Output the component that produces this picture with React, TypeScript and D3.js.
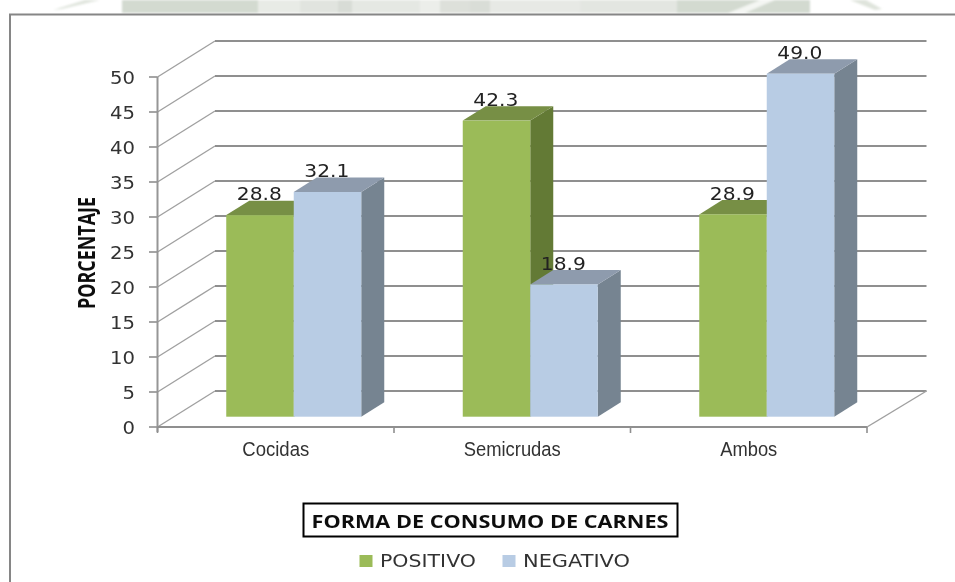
import React from "react";
import * as d3 from "d3";

const categories = ["Cocidas", "Semicrudas", "Ambos"];
const seriesNames = ["POSITIVO", "NEGATIVO"];
const positivo = [28.8, 42.3, 28.9];
const negativo = [32.1, 18.9, 49.0];
const yTicks = [0, 5, 10, 15, 20, 25, 30, 35, 40, 45, 50];
const labelWidths = [67, 97, 57];
const colors = {
  POSITIVO: { front: "#9BBB59", top: "#778F45", side: "#647A36" },
  NEGATIVO: { front: "#B8CCE4", top: "#8E9BAD", side: "#768491" },
};

const mono = "'DejaVu Sans', sans-serif";
const depth = { dx: 57.5, dy: 36 };
const barDepth = { dx: 23, dy: 14.4 };

const y = d3.scaleLinear().domain([0, 50]).range([427, 77]);
const yBar = d3.scaleLinear().domain([0, 50]).range([416.7, 66.7]);
const x = d3.scaleBand<string>().domain(categories).range([157.5, 867]);
const inner = d3.scaleBand<string>().domain(seriesNames).range([-67.5, 67.5]);
const barShift = 18;
const line = d3.line();

const wmBlocks: [number, number, number, number, string][] = [
  [122, 258, 0, 13, "#d3dad0"],
  [258, 300, 0, 13, "#e8ebe6"],
  [300, 338, 0, 13, "#e1e4df"],
  [338, 352, 0, 13, "#d8dcd6"],
  [352, 420, 0, 13, "#e5e8e3"],
  [420, 440, 0, 13, "#eceeea"],
  [440, 470, 0, 13, "#dde0da"],
  [470, 490, 0, 13, "#d9ddd7"],
  [490, 580, 0, 13, "#e7e9e5"],
  [580, 677, 0, 13, "#e3e6e1"],
  [677, 810, 0, 13, "#d3dad0"],
];

export default function App() {
  const data = categories.map((c, i) => ({ c, vals: [positivo[i], negativo[i]] }));
  return (
    <svg
      width={955}
      height={582}
      style={{ position: "absolute", left: 0, top: 0, background: "#fff" }}
    >
      <defs>
        <filter id="wm" x="-5%" y="-20%" width="110%" height="140%">
          <feGaussianBlur stdDeviation="1.2" />
        </filter>
        <filter id="soft" x="-5%" y="-5%" width="110%" height="110%">
          <feGaussianBlur stdDeviation="0.35" />
        </filter>
      </defs>

      <g filter="url(#wm)">
        {wmBlocks.map(([a, b, t, h, f]) => (
          <rect key={a} x={a} y={t} width={b - a} height={h} fill={f} />
        ))}
        <path d={line([[53, 10], [85, 0], [100, 0], [62, 9]]) + "Z"} fill="#dfe4dc" />
        <path d={line([[850, 0], [866, 0], [882, 9], [875, 10]]) + "Z"} fill="#dfe4dc" />
        <path d={line([[728, 13], [760, 0], [775, 0], [745, 13]]) + "Z"} fill="#f4f6f3" />
      </g>
      <rect x={0} y={14} width={955} height={568} fill="#fff" />
      <path d="M10 582V14.5H955" fill="none" stroke="#868686" strokeWidth={2} />

      <g filter="url(#soft)">
        {yTicks.map((t) => {
          const yy = y(t);
          return (
            <g key={t}>
              <line
                x1={157.5}
                y1={yy}
                x2={157.5 + depth.dx}
                y2={yy - depth.dy}
                stroke="#a0a0a0"
                strokeWidth={1.4}
              />
              <line
                x1={157.5 + depth.dx}
                y1={yy - depth.dy}
                x2={926.5}
                y2={yy - depth.dy}
                stroke="#8f8f8f"
                strokeWidth={1.8}
              />
              <line x1={149} x2={157.5} y1={yy} y2={yy} stroke="#8f8f8f" strokeWidth={1.6} />
              <text
                x={135}
                y={yy + 7}
                textAnchor="end"
                fontFamily={mono}
                fontSize={18}
                fill="#333"
                textLength={String(t).length * 12.5}
                lengthAdjust="spacingAndGlyphs"
              >
                {t}
              </text>
            </g>
          );
        })}
        <line x1={157.5} x2={157.5} y1={77} y2={432} stroke="#969696" strokeWidth={2} />
        <line x1={157.5} x2={867} y1={427} y2={427} stroke="#8f8f8f" strokeWidth={1.8} />
        <line x1={867} x2={926.5} y1={427} y2={391} stroke="#a0a0a0" strokeWidth={1.4} />
        {[...categories.map((c) => x(c) as number), 867].map((tx) => (
          <line key={tx} x1={tx} x2={tx} y1={427} y2={433} stroke="#8f8f8f" strokeWidth={1.6} />
        ))}

        {data.map(({ c, vals }) =>
          vals.map((v, si) => {
            const name = seriesNames[si] as keyof typeof colors;
            const left = (x(c) as number) + x.bandwidth() / 2 + barShift + (inner(name) as number);
            const w = inner.bandwidth();
            const top = yBar(v);
            const base = yBar(0);
            const { dx, dy } = barDepth;
            const col = colors[name];
            return (
              <g key={c + name}>
                <path
                  d={line([[left + w, top], [left + w + dx, top - dy], [left + w + dx, base - dy], [left + w, base]]) + "Z"}
                  fill={col.side}
                />
                <path
                  d={line([[left, top], [left + dx, top - dy], [left + w + dx, top - dy], [left + w, top]]) + "Z"}
                  fill={col.top}
                />
                <rect x={left} y={top} width={w} height={base - top} fill={col.front} />
              </g>
            );
          })
        )}

        {data.map(({ c, vals }) =>
          vals.map((v, si) => {
            const name = seriesNames[si];
            const left = (x(c) as number) + x.bandwidth() / 2 + barShift + (inner(name) as number);
            return (
              <text
                key={c + name}
                x={left + inner.bandwidth() / 2 - 0.7}
                y={yBar(v) - 14.8}
                textAnchor="middle"
                fontFamily={mono}
                fontSize={18}
                fill="#222"
                textLength={45}
                lengthAdjust="spacingAndGlyphs"
              >
                {v.toFixed(1)}
              </text>
            );
          })
        )}

        {categories.map((c, i) => (
          <text
            key={c}
            x={(x(c) as number) + x.bandwidth() / 2}
            y={456}
            textAnchor="middle"
            fontFamily="'Liberation Sans', sans-serif"
            fontSize={20}
            fill="#333"
            textLength={labelWidths[i]}
            lengthAdjust="spacingAndGlyphs"
          >
            {c}
          </text>
        ))}

        <text
          transform="translate(95,253) rotate(-90)"
          textAnchor="middle"
          fontFamily="'Open Sans', sans-serif"
          fontWeight={700}
          fontSize={23}
          fill="#111"
          textLength={112}
          lengthAdjust="spacingAndGlyphs"
        >
          PORCENTAJE
        </text>

        <rect x={303.5} y={503.5} width={374} height={33} fill="#fff" stroke="#000" strokeWidth={2} />
        <text
          x={490}
          y={528}
          textAnchor="middle"
          fontFamily="'Open Sans', sans-serif"
          fontWeight={700}
          fontSize={18}
          fill="#111"
          textLength={357}
          lengthAdjust="spacingAndGlyphs"
        >
          FORMA DE CONSUMO DE CARNES
        </text>

        {seriesNames.map((name, i) => {
          const sx = [359.5, 502.5][i];
          const tl = [96, 107][i];
          return (
            <g key={name}>
              <rect x={sx} y={555} width={13} height={12} fill={colors[name as keyof typeof colors].front} />
              <text
                x={sx + 20.5}
                y={566.5}
                fontFamily={mono}
                fontSize={17.5}
                fill="#333"
                textLength={tl}
                lengthAdjust="spacingAndGlyphs"
              >
                {name}
              </text>
            </g>
          );
        })}
      </g>
    </svg>
  );
}
